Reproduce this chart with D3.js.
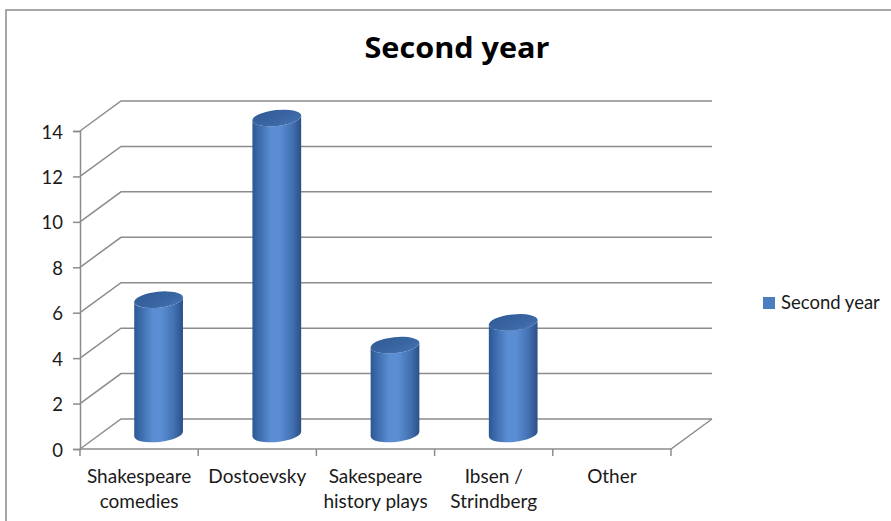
<!DOCTYPE html>
<html>
<head>
<meta charset="utf-8">
<script src="https://cdn.jsdelivr.net/npm/d3@7"></script>
<style>
  html, body { margin: 0; padding: 0; background: #fff; }
  svg { display: block; }
  text { font-family: Lato, "Open Sans", sans-serif; fill: #1a1a1a; }
</style>
</head>
<body>
<svg id="chart" width="891" height="521"></svg>
<script>
// Reading categories and counts for the second year
const categories = [
  ["Shakespeare", "comedies"],
  ["Dostoevsky"],
  ["Sakespeare", "history plays"],
  ["Ibsen /", "Strindberg"],
  ["Other"]
];
const values = [6, 14, 4, 5, 0];
const yTicks = [0, 2, 4, 6, 8, 10, 12, 14];
const seriesName = "Second year";
const chartTitle = "Second year";

const svg = d3.select("#chart");
const W = 891, H = 521;

// Plot box (front plane) and depth offset of the 3-D walls
const front = { left: 80, right: 671, top: 131, bottom: 449 };
const depth = { dx: 41, dy: -30 };

const x = d3.scaleBand()
  .domain(d3.range(categories.length))
  .range([front.left, front.right])
  .padding(0);

const y = d3.scaleLinear()
  .domain([0, 14])
  .range([front.bottom, front.top]);

const gridColor = "#8c8c8c";

// Outer chart frame
svg.append("path")
  .attr("d", `M6,${H} L6,10 L${W},10`)
  .attr("fill", "none")
  .attr("stroke", "#8a8a8a")
  .attr("stroke-width", 1.5);

// Title
svg.append("text")
  .attr("x", 457)
  .attr("y", 58)
  .attr("text-anchor", "middle")
  .attr("textLength", 185)
  .attr("lengthAdjust", "spacingAndGlyphs")
  .style("font-family", "'Open Sans', Lato, sans-serif")
  .style("font-weight", 700)
  .style("font-size", "28.5px")
  .style("fill", "#000")
  .text(chartTitle);

const grid = svg.append("g")
  .attr("fill", "none")
  .attr("stroke", gridColor)
  .attr("stroke-width", 1.5);

// Back wall gridlines and side-wall diagonals
yTicks.forEach(v => {
  const yf = y(v);
  grid.append("path")
    .attr("d", `M${front.left},${yf} L${front.left + depth.dx},${yf + depth.dy} L${front.right + depth.dx},${yf + depth.dy}`);
});

// Floor front edge and right diagonal
grid.append("path")
  .attr("d", `M${front.left},${front.bottom} L${front.right},${front.bottom} L${front.right + depth.dx},${front.bottom + depth.dy}`);

// Value axis
const yAxis = d3.axisLeft(y).tickValues(yTicks).tickSize(7).tickPadding(10).tickFormat(d3.format("d"));
const yG = svg.append("g")
  .attr("transform", `translate(${front.left},0)`)
  .call(yAxis);
yG.select(".domain").attr("stroke", gridColor).attr("stroke-width", 1.5);
yG.selectAll(".tick line").attr("stroke", gridColor).attr("stroke-width", 1.5);
yG.selectAll(".tick text")
  .style("font-family", "Lato, sans-serif")
  .style("font-size", "18.5px")
  .style("fill", "#1a1a1a")
  .attr("dy", "0.38em");

// Category axis ticks at band boundaries
const bounds = d3.range(categories.length + 1).map(i =>
  i < categories.length ? x(i) : x(categories.length - 1) + x.bandwidth());
svg.append("g").selectAll("line")
  .data(bounds)
  .join("line")
  .attr("x1", d => d).attr("x2", d => d)
  .attr("y1", front.bottom).attr("y2", front.bottom + 7)
  .attr("stroke", gridColor)
  .attr("stroke-width", 1.5);

// Category labels
const catG = svg.append("g");
categories.forEach((lines, i) => {
  const t = catG.append("text")
    .attr("x", x(i) + x.bandwidth() / 2)
    .attr("y", 483)
    .attr("text-anchor", "middle")
    .style("font-size", "19px");
  lines.forEach((ln, j) => {
    t.append("tspan")
      .attr("x", x(i) + x.bandwidth() / 2)
      .attr("dy", j === 0 ? 0 : 24.5)
      .text(ln);
  });
});

// Cylinder shading
const defs = svg.append("defs");
const bodyGrad = defs.append("linearGradient")
  .attr("id", "cylBody").attr("x1", "0").attr("x2", "1").attr("y1", "0").attr("y2", "0");
[
  [0, "#2d5790"], [0.12, "#3a69aa"], [0.38, "#5a8dd2"], [0.55, "#5b8ed4"],
  [0.8, "#4473b4"], [1, "#2c5088"]
].forEach(([o, c]) => bodyGrad.append("stop").attr("offset", o).attr("stop-color", c));

const topGrad = defs.append("linearGradient")
  .attr("id", "cylTop").attr("x1", "0").attr("x2", "1").attr("y1", "0").attr("y2", "1");
[[0, "#305b96"], [0.6, "#3a66a3"], [1, "#4676b6"]]
  .forEach(([o, c]) => topGrad.append("stop").attr("offset", o).attr("stop-color", c));

const rx = 24.5, ry = 8, rot = -6;
const rad = rot * Math.PI / 180;
const cosR = Math.cos(rad), sinR = Math.sin(rad);

const bars = svg.append("g");
values.forEach((v, i) => {
  if (v <= 0) return;
  const cx = x(i) + x.bandwidth() / 2 + depth.dx / 2 - 1;
  const cyTop = y(v) + depth.dy / 2 + 2;
  const cyBot = y(0) + depth.dy / 2;
  const L = (cy) => [cx - rx * cosR, cy - rx * sinR];
  const R = (cy) => [cx + rx * cosR, cy + rx * sinR];
  const [lxT, lyT] = L(cyTop), [rxT, ryT] = R(cyTop);
  const [lxB, lyB] = L(cyBot), [rxB, ryB] = R(cyBot);
  bars.append("path")
    .attr("d", `M${lxT},${lyT} L${lxB},${lyB} A${rx},${ry} ${rot} 0 0 ${rxB},${ryB} L${rxT},${ryT} A${rx},${ry} ${rot} 0 1 ${lxT},${lyT} Z`)
    .attr("fill", "url(#cylBody)");
  bars.append("ellipse")
    .attr("cx", 0).attr("cy", 0).attr("rx", rx).attr("ry", ry)
    .attr("transform", `translate(${cx},${cyTop}) rotate(${rot})`)
    .attr("fill", "url(#cylTop)");
});

// Legend
const lg = svg.append("g").attr("transform", "translate(763,297)");
lg.append("rect").attr("width", 12).attr("height", 12).attr("fill", "#4a7ebf");
lg.append("text")
  .attr("x", 18).attr("y", 11.5)
  .style("font-size", "18.5px")
  .text(seriesName);
</script>
</body>
</html>
